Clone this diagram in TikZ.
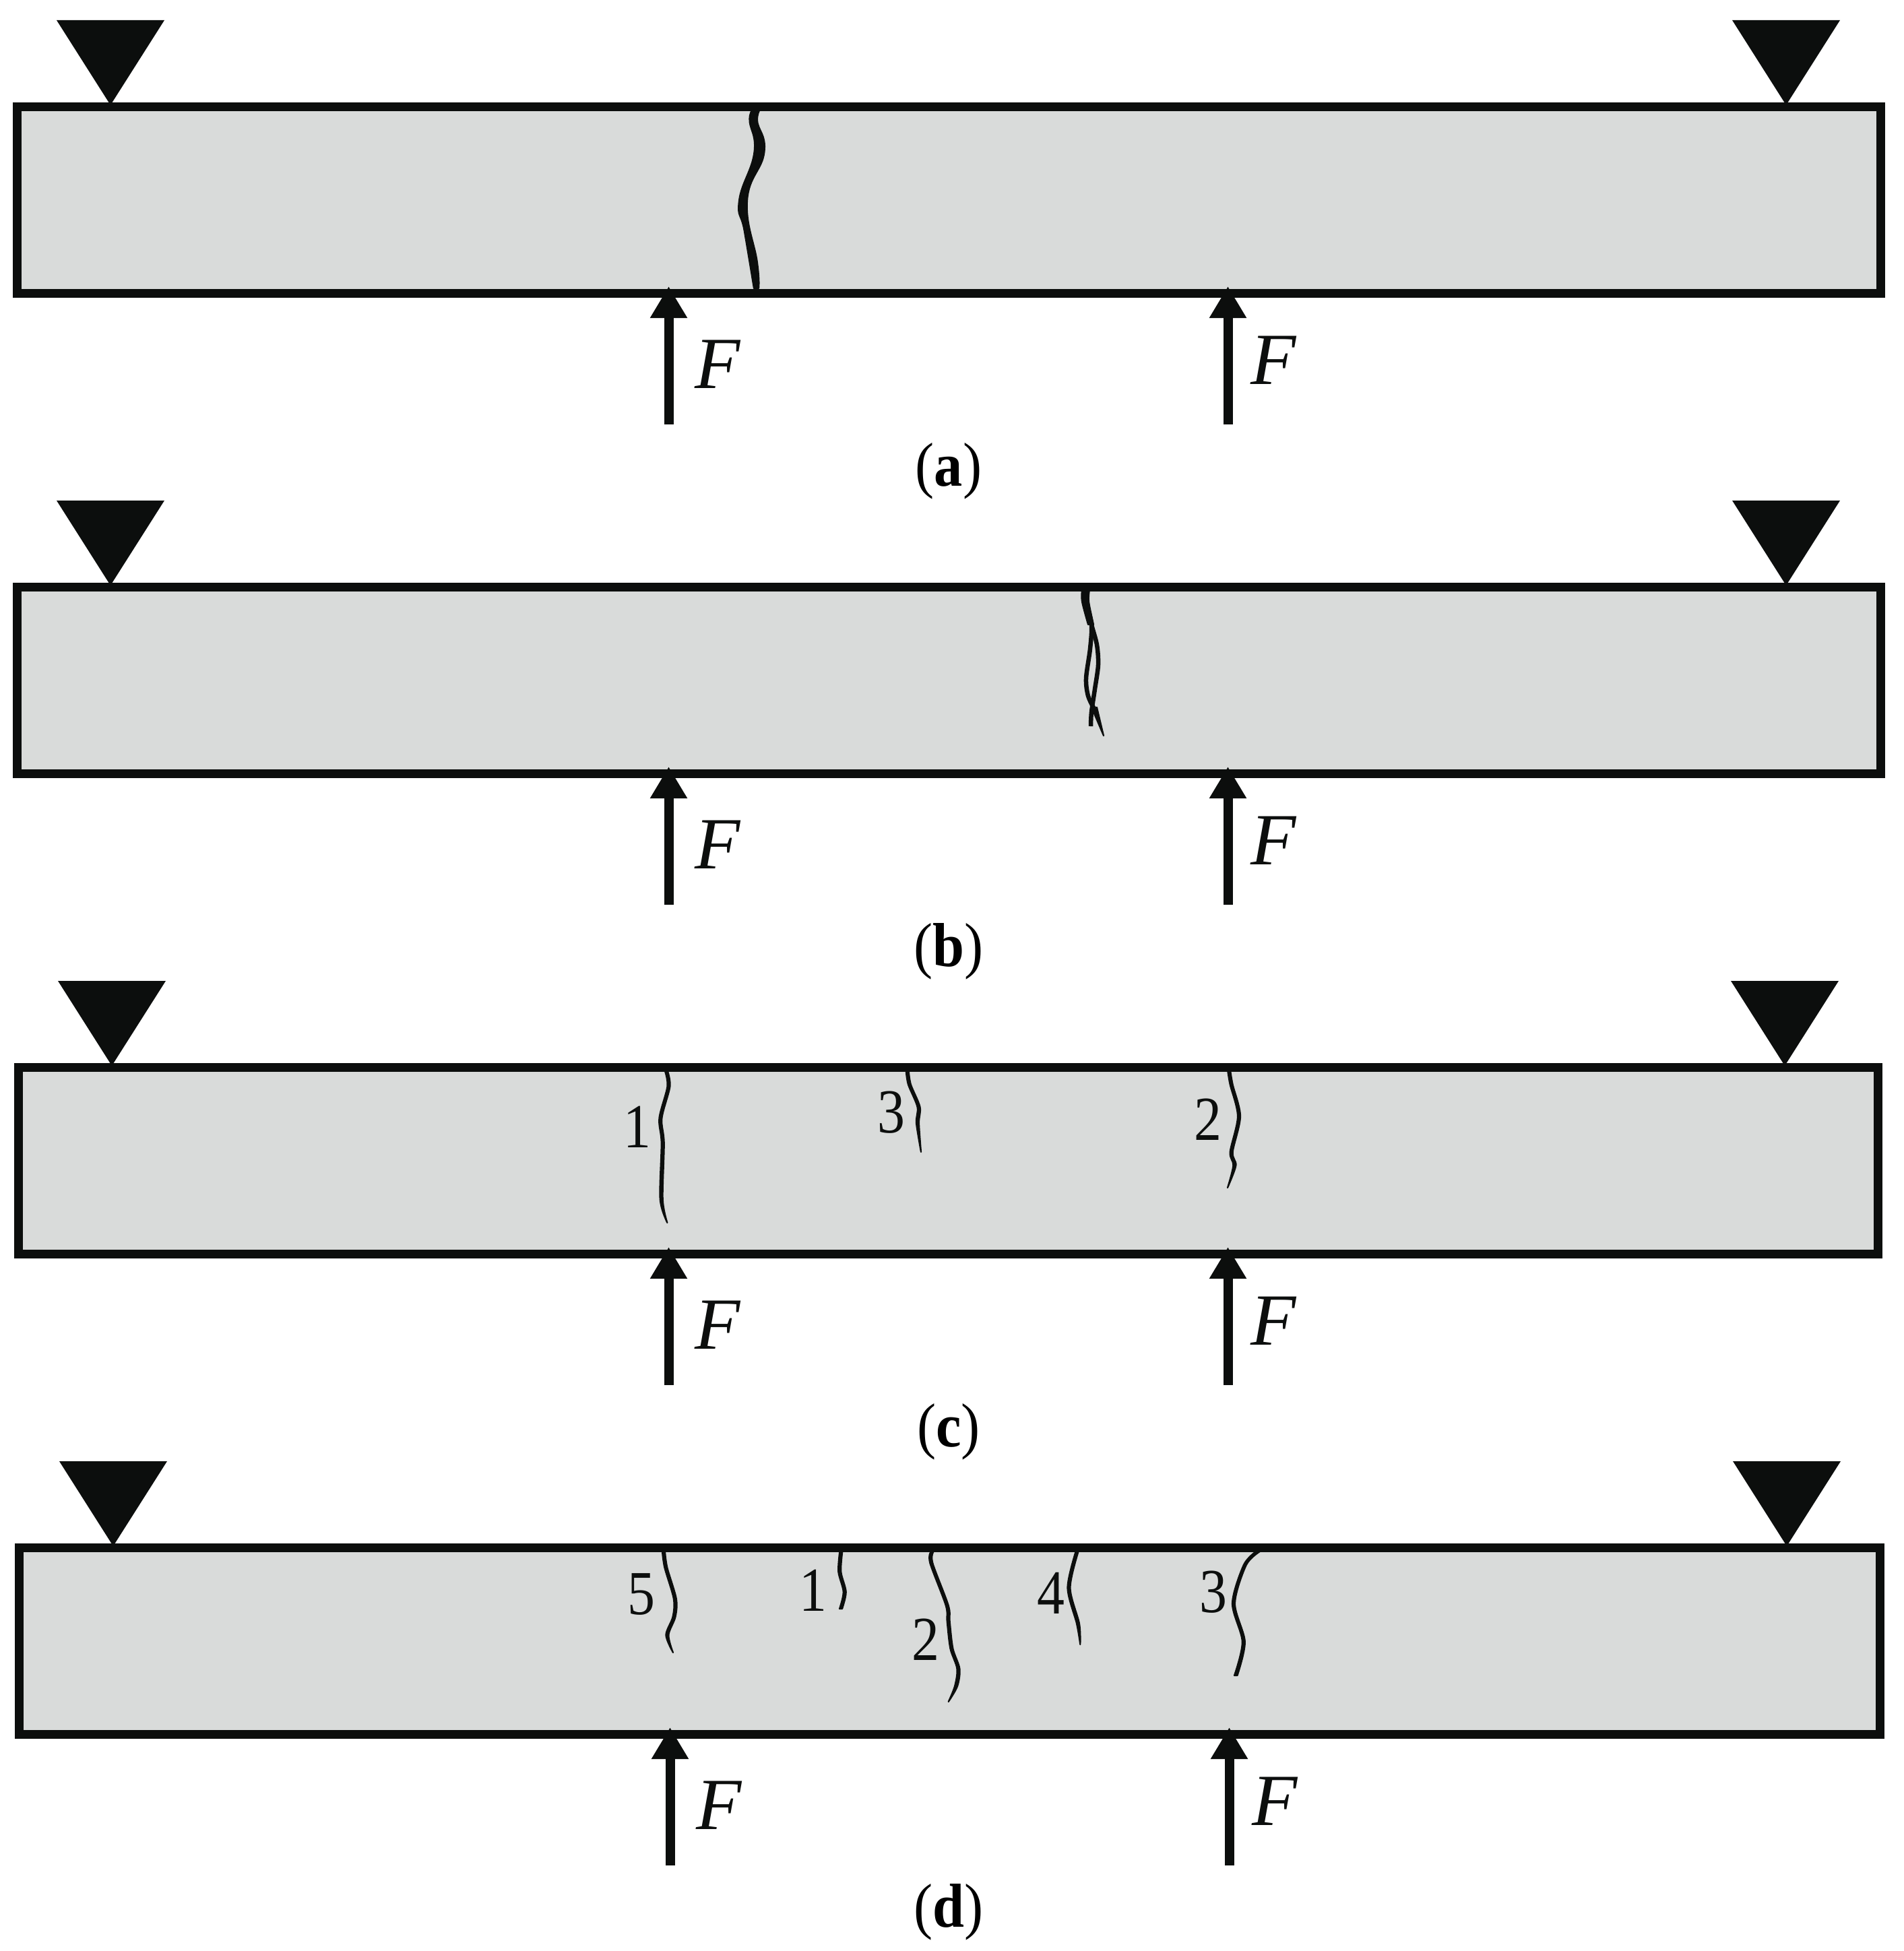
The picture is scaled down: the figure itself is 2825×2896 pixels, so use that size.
\documentclass[tikz,border=0pt]{standalone}
\usepackage{fontspec}
\setmainfont{Liberation Serif}
\usetikzlibrary{arrows.meta}
\definecolor{ink}{HTML}{0C0E0D}
\definecolor{beamgray}{HTML}{D9DBDA}
\tikzset{
  x=1pt,y=-1pt,
  beam/.style={draw=ink,fill=beamgray,line width=13pt,line join=miter},
  support/.style={fill=ink},
  force/.style={draw=ink,line width=14pt,-{Triangle[length=47pt,width=52pt,fill=ink]}},
  crackfill/.style={fill=ink,draw=ink,line width=2.2pt,line join=round},
  forcelabel/.style={anchor=base,inner sep=0pt,text=ink,font=\fontsize{106}{106}\selectfont\itshape,xscale=1.04,yscale=1.03},
  numlabel/.style={anchor=base,inner sep=0pt,text=ink,font=\fontsize{93}{93}\selectfont,xscale=.88},
  caption/.style={anchor=base,inner sep=0pt,text=black,font=\fontsize{87}{87}\selectfont,yscale=1.06,xscale=.97},
}
\begin{document}
\begin{tikzpicture}
\useasboundingbox (0,0) rectangle (2825,2896);
% panel: name / dy / beam left / beam right / left apex / right apex / arrow shift / caption
\foreach \p/\dy/\bl/\br/\al/\ar/\sh/\lt in {a/0/25.5/2791/164/2651/0/a,b/713/25.5/2791/164/2651/0/b,c/1426/27/2787/166/2649/0/c,d/2139/28/2790/168/2652/2/d}{
  \begin{scope}[yshift=-\dy pt]
    \draw[beam] (\bl,158) rectangle (\br,435);
    \fill[support] (\al-80,30) -- (\al+80,30) -- (\al,156) -- cycle;
    \fill[support] (\ar-80,30) -- (\ar+80,30) -- (\ar,156) -- cycle;
    \coordinate (s1\p) at (992.5+\sh,630);
    \coordinate (t1\p) at (992.5+\sh,425);
    \coordinate (s2\p) at (1822.5+\sh,630);
    \coordinate (t2\p) at (1822.5+\sh,425);
    \draw[force] (s1\p) -- (t1\p);
    \draw[force] (s2\p) -- (t2\p);
    \node[forcelabel] (f1\p) at (1065+\sh,576) {F};
    \node[forcelabel] (f2\p) at (1890+\sh,570) {F};
    \node[caption] (cap\p) at (1408,721) {(\textbf{\lt})};
  \end{scope}
}
% crack a
\fill[crackfill] plot[smooth,tension=.8] coordinates {(1123,157)(1112.5,176)(1119.5,226)(1097,298)(1105,344)(1119,428)} -- plot[smooth,tension=.8] coordinates {(1126,428)(1124,390)(1109,298)(1134.4,226)(1124,178)(1133,157)} -- cycle;
% crack b
\draw[ink,line width=6.5pt,line join=round] plot[smooth] coordinates {(1612,893)(1620,927)(1628,957)(1630,987)(1625,1023)(1620,1057)(1619,1078)};
\draw[ink,line width=6.5pt,line join=round] plot[smooth] coordinates {(1612,893)(1620,927)(1618,963)(1612,1007)(1615,1033)(1624,1052)};
\fill[crackfill] (1621,1052) -- (1628,1050) -- (1638,1092) -- cycle;
\fill[crackfill] plot[smooth] coordinates {(1606,875)(1606,893)(1615,927)} -- plot[smooth] coordinates {(1623,927)(1616,893)(1617,875)} -- cycle;
% cracks c
\fill[crackfill] plot[smooth] coordinates {(987,1590)(990.4,1613)(978.4,1660)(981.7,1697)(979.7,1780)(990.4,1815)} -- plot[smooth] coordinates {(990.4,1815)(983.7,1780)(985.7,1697)(982.4,1660)(994.4,1613)(991,1590)} -- cycle;
\fill[crackfill] plot[smooth] coordinates {(1344.8,1590)(1348,1610)(1361.5,1643)(1360,1667)(1367,1710)} -- plot[smooth] coordinates {(1367,1710)(1364,1667)(1365.5,1643)(1352,1610)(1348.8,1590)} -- cycle;
\fill[crackfill] plot[smooth] coordinates {(1822.3,1590)(1825.7,1610)(1837,1657)(1825.7,1710)(1830.4,1730)(1822,1763)} -- plot[smooth] coordinates {(1822,1763)(1834.4,1730)(1829.7,1710)(1841,1657)(1829.7,1610)(1826.3,1590)} -- cycle;
% cracks d
\fill[crackfill] plot[smooth] coordinates {(983,2303)(986.4,2327)(999.8,2373)(998.5,2400)(988.4,2427)(999,2453)} -- plot[smooth] coordinates {(999,2453)(992.4,2427)(1002.5,2400)(1003.8,2373)(990.4,2327)(987,2303)} -- cycle;
\fill[crackfill] plot[smooth] coordinates {(1246.3,2303)(1244.3,2333)(1251.7,2363)(1246,2388)} -- plot[smooth] coordinates {(1250,2388)(1255.7,2363)(1248.3,2333)(1250.3,2303)} -- cycle;
\fill[crackfill] plot[smooth] coordinates {(1381.6,2303)(1380.3,2320)(1403.7,2383)(1405.7,2407)(1410.4,2447)(1420.4,2477)(1417,2503)(1407.7,2526)} -- plot[smooth] coordinates {(1407.7,2526)(1421,2503)(1424.4,2477)(1414.4,2447)(1409.7,2407)(1407.7,2383)(1384.3,2320)(1385.6,2303)} -- cycle;
\fill[crackfill] plot[smooth] coordinates {(1596.6,2303)(1584.5,2357)(1598,2410)(1603.3,2441)} -- plot[smooth] coordinates {(1603.3,2441)(1602,2410)(1588.5,2357)(1600.6,2303)} -- cycle;
\fill[crackfill] plot[smooth] coordinates {(1864,2303)(1845.8,2323)(1829,2380)(1843.8,2437)(1832,2487)} -- plot[smooth] coordinates {(1836.5,2487)(1847.8,2437)(1833,2380)(1849.8,2323)(1870,2303)} -- cycle;
% numbers c
\node[numlabel] (c1) at (946,1703) {1};
\node[numlabel] (c3) at (1323,1681) {3};
\node[numlabel] (c2) at (1793,1692) {2};
% numbers d
\node[numlabel] (d5) at (952,2396) {5};
\node[numlabel] (d1) at (1207,2391) {1};
\node[numlabel] (d2) at (1374,2464) {2};
\node[numlabel] (d4) at (1560,2395) {4};
\node[numlabel] (d3) at (1801,2393) {3};
\end{tikzpicture}
\end{document}
